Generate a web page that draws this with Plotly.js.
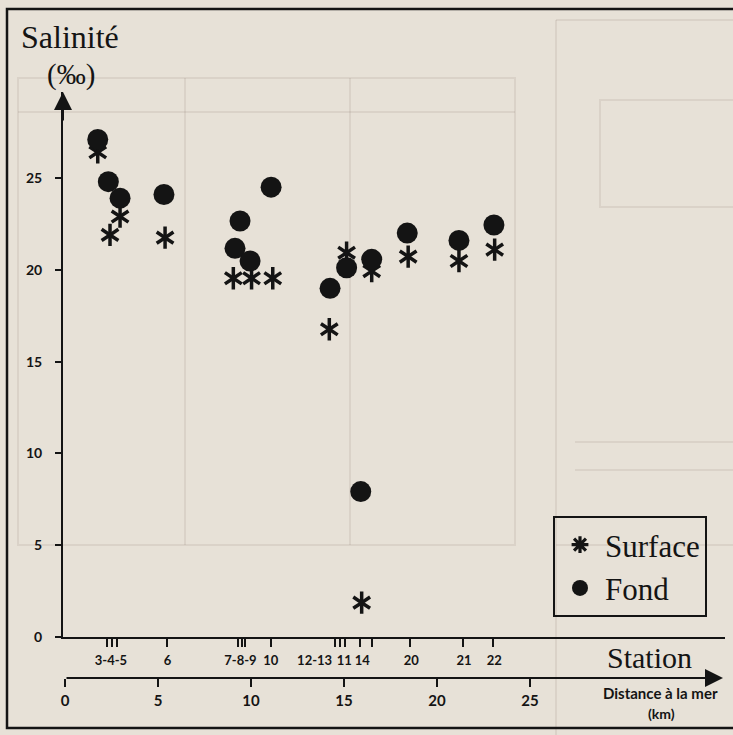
<!DOCTYPE html>
<html><head><meta charset="utf-8">
<script src="https://cdn.plot.ly/plotly-3.0.1.min.js"></script>
<style>html,body{margin:0;padding:0;background:#e7e1d7;}#chart{width:733px;height:735px;}</style>
</head><body><div id="chart"></div>
<script>
// ---- data (distance from the sea in km, salinity in per-mille) ----
const fondKm   = [1.76, 2.33, 2.96, 5.32, 9.41, 9.14, 9.95, 11.08, 14.25, 15.14, 16.49, 18.40, 21.18, 23.06, 15.90];
const fondSal  = [27.1, 24.8, 23.9, 24.1, 22.66, 21.17, 20.48, 24.5, 18.99, 20.11, 20.57, 22.0, 21.6, 22.44, 7.92];
const surfKm   = [1.76, 2.42, 2.96, 5.38, 9.05, 10.03, 11.17, 14.21, 15.14, 16.49, 18.45, 21.18, 23.10, 15.95];
const surfSal  = [26.4, 21.9, 22.9, 21.75, 19.54, 19.54, 19.54, 16.76, 20.93, 19.93, 20.72, 20.48, 21.1, 1.87];
const stationTickKm  = [2.24, 2.51, 2.78, 5.47, 9.32, 9.50, 9.68, 11.10, 14.52, 14.78, 15.05, 15.86, 16.50, 18.55, 21.41, 23.03];
const stationLabelKm = [2.47, 5.51, 9.43, 11.06, 13.42, 15.02, 15.98, 18.62, 21.45, 23.08];
const stationLabels  = ['3-4-5', '6', '7-8-9', '10', '12-13', '11', '14', '20', '21', '22'];
const distTicks = [0, 5, 10, 15, 20, 25];
const salTicks  = [0, 5, 10, 15, 20, 25];

// ---- geometry helpers ----
const W = 733, H = 735, L = 63, R = 8, T = 92, B = 45;
const PW = W - L - R, PH = H - T - B;
const px = x => (x - L) / PW;
const py = y => (H - B - y) / PH;
const KM0 = 65, KMPX = 18.6, SAL0 = 637, SALPX = 18.36;
const xr = [(L - KM0) / KMPX, (W - R - KM0) / KMPX];
const yr = [0, (SAL0 - T) / SALPX];
const INK = '#141414';
const numFont = {family: 'Lato, "Liberation Sans", sans-serif', size: 14, color: INK, weight: 700};
const serif = 'Liberation Serif, "Times New Roman", serif';

const traces = [
  // legend entry for the surface series (the plotted marks are the two traces below)
  {type: 'scatter', mode: 'markers', name: 'Surface', legendgroup: 'a', legendrank: 1,
   x: [null], y: [null], xaxis: 'x', yaxis: 'y', hoverinfo: 'skip',
   marker: {symbol: 'asterisk-open', size: 14, color: INK, line: {width: 3.2, color: INK}}},
  {type: 'scatter', mode: 'markers', name: 'Surface', legendgroup: 'a', showlegend: false,
   x: surfKm, y: surfSal, xaxis: 'x', yaxis: 'y', hoverinfo: 'x+y',
   marker: {symbol: 'y-up-open', size: 14, color: INK, line: {width: 3.5, color: INK}}},
  {type: 'scatter', mode: 'markers', name: 'Surface', legendgroup: 'a', showlegend: false,
   x: surfKm, y: surfSal, xaxis: 'x', yaxis: 'y', hoverinfo: 'skip',
   marker: {symbol: 'y-down-open', size: 14, color: INK, line: {width: 3.5, color: INK}}},
  {type: 'scatter', mode: 'markers', name: 'Fond', legendgroup: 'b', legendrank: 2,
   x: fondKm, y: fondSal, xaxis: 'x', yaxis: 'y', hoverinfo: 'x+y',
   marker: {symbol: 'circle', size: 21, color: INK, line: {width: 0}}},
  {type: 'scatter', mode: 'markers', showlegend: false, hoverinfo: 'skip',
   x: [distTicks[0]], y: [salTicks[0]], xaxis: 'x2', yaxis: 'y', marker: {opacity: 0}}
];

const ghost = 'rgba(120,110,95,0.12)';
const gl = (x0, y0, x1, y1) => ({type: 'line', xref: 'paper', yref: 'paper', layer: 'below',
  x0: px(x0), y0: py(y0), x1: px(x1), y1: py(y1), line: {color: ghost, width: 2}});
const shapes = [
  {type: 'rect', xref: 'paper', yref: 'paper', layer: 'below', x0: px(18), x1: px(515), y0: py(78), y1: py(545), line: {color: ghost, width: 2}},
  gl(18, 112, 515, 112), gl(185, 78, 185, 545), gl(350, 78, 350, 545),
  gl(556, 20, 556, 735), gl(556, 20, 733, 20),
  {type: 'rect', xref: 'paper', yref: 'paper', layer: 'below', x0: px(600), x1: px(740), y0: py(100), y1: py(207), line: {color: ghost, width: 2}},
  gl(575, 442, 733, 442), gl(575, 470, 733, 470), gl(556, 545, 733, 545),
  {type: 'rect', xref: 'paper', yref: 'paper', x0: px(7), x1: px(745), y0: py(9), y1: py(728), line: {color: INK, width: 2.5}}
];

const annotations = [
  {xref: 'paper', yref: 'paper', x: px(19), y: py(37), xanchor: 'left', yanchor: 'middle', showarrow: false,
   text: 'Salinité', font: {family: serif, size: 32, color: INK}},
  {xref: 'paper', yref: 'paper', x: px(71), y: py(74), xanchor: 'center', yanchor: 'middle', showarrow: false,
   text: '(‰)', font: {family: serif, size: 29, color: INK}},
  {xref: 'paper', yref: 'paper', x: px(649), y: py(657), xanchor: 'center', yanchor: 'middle', showarrow: false,
   text: 'Station', font: {family: serif, size: 30, color: INK}},
  {xref: 'paper', yref: 'paper', x: px(660), y: py(693), xanchor: 'center', yanchor: 'middle', showarrow: false,
   text: 'Distance à la mer', font: {family: 'Lato, sans-serif', size: 15, color: INK, weight: 700}},
  {xref: 'paper', yref: 'paper', x: px(661), y: py(713), xanchor: 'center', yanchor: 'middle', showarrow: false,
   text: '(km)', font: {family: 'Lato, sans-serif', size: 14, color: INK, weight: 700}},
  // y axis arrow
  {xref: 'paper', yref: 'paper', x: 0, y: 1, ax: 0, ay: 30, axref: 'pixel', ayref: 'pixel', text: '', showarrow: true,
   arrowhead: 2, arrowsize: 1.8, arrowwidth: 2, arrowcolor: INK, standoff: 0},
  // distance axis with arrow
  {xref: 'x2', yref: 'paper', x: (723 - KM0) / KMPX, y: py(678), axref: 'x2', ax: 0, ayref: 'pixel', ay: 0, text: '', showarrow: true,
   arrowhead: 2, arrowsize: 1.8, arrowwidth: 2, arrowcolor: INK, standoff: 0}
];

const layout = {
  width: W, height: H,
  margin: {l: L, r: R, t: T, b: B, pad: 0},
  paper_bgcolor: '#e7e1d7', plot_bgcolor: 'rgba(0,0,0,0)',
  showlegend: true,
  legend: {x: px(553), y: py(516), xanchor: 'left', yanchor: 'top', bgcolor: 'rgba(0,0,0,0)',
    bordercolor: INK, borderwidth: 2, font: {family: serif, size: 31, color: INK},
    traceorder: 'grouped', tracegroupgap: 0, itemwidth: 40},
  xaxis: {range: xr, domain: [0, 1], anchor: 'y', showline: true, linewidth: 2, linecolor: INK,
    showgrid: false, zeroline: false, tickmode: 'array', tickvals: stationLabelKm, ticktext: stationLabels,
    tickangle: 0, ticks: 'outside', ticklen: 8, tickcolor: 'rgba(0,0,0,0)',
    tickfont: Object.assign({}, numFont, {size: 13}), ticklabelstandoff: 2,
    minor: {tickmode: 'array', tickvals: stationTickKm, ticks: 'outside', ticklen: 8, tickwidth: 2, tickcolor: INK, showgrid: false}},
  xaxis2: {range: xr, overlaying: 'x', anchor: 'free', position: py(678), side: 'bottom', showline: false,
    showgrid: false, zeroline: false, tickmode: 'array', tickvals: distTicks, tickangle: 0,
    ticks: 'outside', ticklen: 8, tickwidth: 2, tickcolor: INK, tickfont: Object.assign({}, numFont, {size: 15}), ticklabelstandoff: 1},
  yaxis: {range: yr, domain: [py(SAL0), 1], anchor: 'x', showline: true, linewidth: 2, linecolor: INK,
    showgrid: false, zeroline: false, tickmode: 'array', tickvals: salTicks,
    ticks: 'outside', ticklen: 6, tickwidth: 2, tickcolor: INK, tickfont: numFont, ticklabelstandoff: 10},
  shapes: shapes,
  annotations: annotations
};

Plotly.newPlot('chart', traces, layout, {displayModeBar: false, staticPlot: true});
</script>
</body></html>
